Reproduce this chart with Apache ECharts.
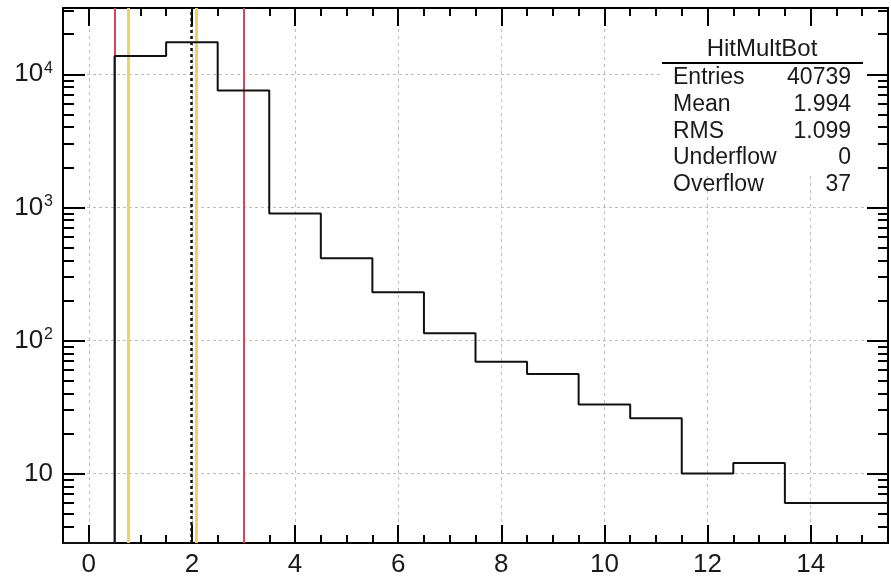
<!DOCTYPE html>
<html>
<head>
<meta charset="utf-8">
<title>HitMultBot</title>
<script src="https://cdn.jsdelivr.net/npm/echarts@6/dist/echarts.min.js"></script>
<style>
  html, body { margin: 0; padding: 0; background: #fff; }
  #main { width: 891px; height: 580px; }
</style>
</head>
<body>
<div id="main"></div>
<script>
// HitMultBot histogram: low edge of each bin and its content
const binLowEdges = [-0.5, 0.5, 1.5, 2.5, 3.5, 4.5, 5.5, 6.5, 7.5, 8.5, 9.5, 10.5, 11.5, 12.5, 13.5, 14.5];
const binCounts = [0, 13700, 17400, 7550, 900, 415, 230, 113, 69, 56, 33, 26, 10, 12, 6, 6];
const X_MIN = -0.5, X_MAX = 15.5;
const Y_MIN = 3, Y_MAX = 31500;

// ticks
const xMajorTicks = [0, 2, 4, 6, 8, 10, 12, 14];
const xMinorTicks = [0.5, 1, 1.5, 2.5, 3, 3.5, 4.5, 5, 5.5, 6.5, 7, 7.5, 8.5, 9, 9.5, 10.5, 11, 11.5, 12.5, 13, 13.5, 14.5, 15];
const yMajorTicks = [10, 100, 1000, 10000];
const yMinorTicks = [4, 5, 6, 7, 8, 9, 20, 30, 40, 50, 60, 70, 80, 90,
  200, 300, 400, 500, 600, 700, 800, 900, 2000, 3000, 4000, 5000, 6000, 7000, 8000, 9000, 20000, 30000];

// cut lines
const redCuts = [0.5, 3.0];
const yellowCuts = [0.76, 2.09];
const meanValue = 1.994;

// stats box
const statsTitle = 'HitMultBot';
const statLabels = ['Entries', 'Mean', 'RMS', 'Underflow', 'Overflow'];
const statValues = ['40739', '1.994', '1.099', '0', '37'];

const FONT = '"Liberation Sans", Arial, Helvetica, sans-serif';

// histogram outline: empty bins sit on the axis floor, last bin closed at X_MAX
const histData = binLowEdges.map((x, i) => [x, binCounts[i] > 0 ? binCounts[i] : Y_MIN]);
histData.push([X_MAX, binCounts[binCounts.length - 1]]);

const chart = echarts.init(document.getElementById('main'), null, { renderer: 'canvas' });

function xAxisDef(position, ticks, len, major) {
  return {
    type: 'value', min: X_MIN, max: X_MAX, position: position,
    axisLine: { show: major, onZero: false, lineStyle: { color: '#000', width: 2 } },
    axisTick: { show: true, inside: true, length: len, customValues: ticks, lineStyle: { color: '#000', width: 2 } },
    axisLabel: {
      show: major && position === 'bottom', customValues: ticks, margin: 9,
      fontSize: 26, fontFamily: FONT, color: '#1a1a1a'
    },
    splitLine: {
      show: major && position === 'bottom',
      lineStyle: { color: '#bdbdbd', width: 1, type: [3, 4] }
    }
  };
}

function yAxisDef(position, ticks, len, major) {
  return {
    type: 'log', logBase: 10, min: Y_MIN, max: Y_MAX, position: position,
    axisLine: { show: major, onZero: false, lineStyle: { color: '#000', width: 2 } },
    axisTick: { show: true, inside: true, length: len, customValues: ticks, lineStyle: { color: '#000', width: 2 } },
    axisLabel: {
      show: major && position === 'left', customValues: ticks, margin: 10,
      fontSize: 26, fontFamily: FONT, color: '#1a1a1a',
      formatter: function (v) {
        const e = Math.round(Math.log10(v));
        return e === 1 ? '10' : '10{sup|' + e + '}';
      },
      rich: {
        sup: { fontSize: 16, fontFamily: FONT, color: '#1a1a1a', verticalAlign: 'top', padding: [0, 0, 12, 1] }
      }
    },
    splitLine: {
      show: major && position === 'left',
      lineStyle: { color: '#bdbdbd', width: 1, type: [3, 3] }
    }
  };
}

function cutLine(x, color, width, type) {
  return { xAxis: x, lineStyle: { color: color, width: width, type: type } };
}

const rowY0 = 78, rowStep = 26.7;
const statsGraphics = [
  { type: 'rect', shape: { x: 662, y: 28, width: 204, height: 144 }, style: { fill: '#fff' } },
  {
    type: 'text', x: 762, y: 49,
    style: { text: statsTitle, fill: '#1a1a1a', font: '24px ' + FONT, align: 'center', verticalAlign: 'middle' }
  },
  { type: 'line', shape: { x1: 662, y1: 63, x2: 863, y2: 63 }, style: { stroke: '#000', lineWidth: 2 } }
];
statLabels.forEach((lab, i) => {
  statsGraphics.push({
    type: 'text', x: 673, y: rowY0 + i * rowStep,
    style: { text: lab, fill: '#1a1a1a', font: '23px ' + FONT, align: 'left', verticalAlign: 'middle' }
  });
  statsGraphics.push({
    type: 'text', x: 851, y: rowY0 + i * rowStep,
    style: { text: statValues[i], fill: '#1a1a1a', font: '23px ' + FONT, align: 'right', verticalAlign: 'middle' }
  });
});

chart.setOption({
  backgroundColor: '#fff',
  animation: false,
  grid: { left: 63, right: 3, top: 8, bottom: 37, containLabel: false },
  xAxis: [
    xAxisDef('bottom', xMajorTicks, 18, true),
    xAxisDef('bottom', xMinorTicks, 8, false),
    xAxisDef('top', xMajorTicks, 18, true),
    xAxisDef('top', xMinorTicks, 8, false)
  ],
  yAxis: [
    yAxisDef('left', yMajorTicks, 22, true),
    yAxisDef('left', yMinorTicks, 11, false),
    yAxisDef('right', yMajorTicks, 21, true),
    yAxisDef('right', yMinorTicks, 10, false)
  ],
  series: [
    {
      name: 'cuts', type: 'line', data: [], z: 1, silent: true,
      markLine: {
        z: 1, silent: true, symbol: 'none', label: { show: false }, animation: false,
        data: [
          ...redCuts.map(x => cutLine(x, '#d4455e', 2, 'solid')),
          ...yellowCuts.map(x => cutLine(x, '#f0d25e', 3, 'solid')),
          cutLine(meanValue, '#111', 2.5, [3, 3])
        ]
      }
    },
    {
      name: statsTitle, type: 'line', step: 'end', z: 3,
      showSymbol: false, symbol: 'none', silent: true,
      lineStyle: { color: '#111', width: 2 },
      data: histData
    }
  ],
  graphic: { elements: statsGraphics.map(el => Object.assign({ z: 20 }, el)) }
});
</script>
</body>
</html>
